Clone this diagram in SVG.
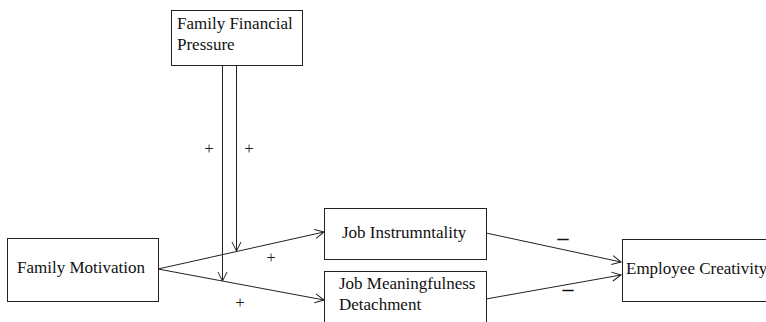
<svg xmlns="http://www.w3.org/2000/svg" width="766" height="322" viewBox="0 0 766 322">
<style>
.box{fill:#fff;stroke:#222;stroke-width:1}
.t{font-family:'Liberation Serif','Times New Roman',serif;font-size:17px;fill:#111}
.c{fill:none;stroke:#222;stroke-width:1}
.sgn{font-family:'Liberation Serif','Times New Roman',serif;font-size:17px;fill:#222;text-anchor:middle}
.neg{font-family:'Liberation Serif','Times New Roman',serif;font-size:22px;font-weight:bold;fill:#111;text-anchor:middle}
</style>
<defs>
<marker id="ah" markerUnits="userSpaceOnUse" markerWidth="12" markerHeight="12" viewBox="-1 -6 12 12" refX="9" refY="0" orient="auto">
<path d="M0,-4.5 L9,0 L0,4.5" fill="none" stroke="#222" stroke-width="1"/>
</marker>
</defs>
<rect width="766" height="322" fill="#fff"/>
<g id="connectors">
<line class="c" x1="158" y1="269" x2="324" y2="232" marker-end="url(#ah)"/>
<line class="c" x1="158" y1="269" x2="324" y2="300" marker-end="url(#ah)"/>
<line class="c" x1="222.5" y1="65" x2="222.5" y2="281" marker-end="url(#ah)"/>
<line class="c" x1="236.5" y1="65" x2="236.5" y2="251" marker-end="url(#ah)"/>
<line class="c" x1="486" y1="233" x2="621" y2="262" marker-end="url(#ah)"/>
<line class="c" x1="486" y1="299" x2="621" y2="275" marker-end="url(#ah)"/>
<text class="sgn" x="209" y="154">+</text>
<text class="sgn" x="249" y="154">+</text>
<text class="sgn" x="271" y="263">+</text>
<text class="sgn" x="240" y="308">+</text>
<text class="neg" x="563" y="245">–</text>
<text class="neg" x="568" y="296">–</text>
</g>
<g id="ffp">
<rect class="box" x="171.5" y="10.5" width="131" height="55"/>
<text class="t" x="177" y="29">Family Financial</text>
<text class="t" x="177" y="50">Pressure</text>
</g>
<g id="fm">
<rect class="box" x="7.5" y="238.5" width="151" height="63"/>
<text class="t" x="17" y="273">Family Motivation</text>
</g>
<g id="ji">
<rect class="box" x="324.5" y="208.5" width="162" height="51"/>
<text class="t" x="342" y="238">Job Instrumntality</text>
</g>
<g id="jmd">
<rect class="box" x="324.5" y="271.5" width="162" height="70"/>
<text class="t" x="339" y="289">Job Meaningfulness</text>
<text class="t" x="339" y="310">Detachment</text>
</g>
<g id="ec">
<rect class="box" x="622.5" y="239.5" width="200" height="62"/>
<text class="t" x="626" y="274">Employee Creativity</text>
</g>
</svg>
